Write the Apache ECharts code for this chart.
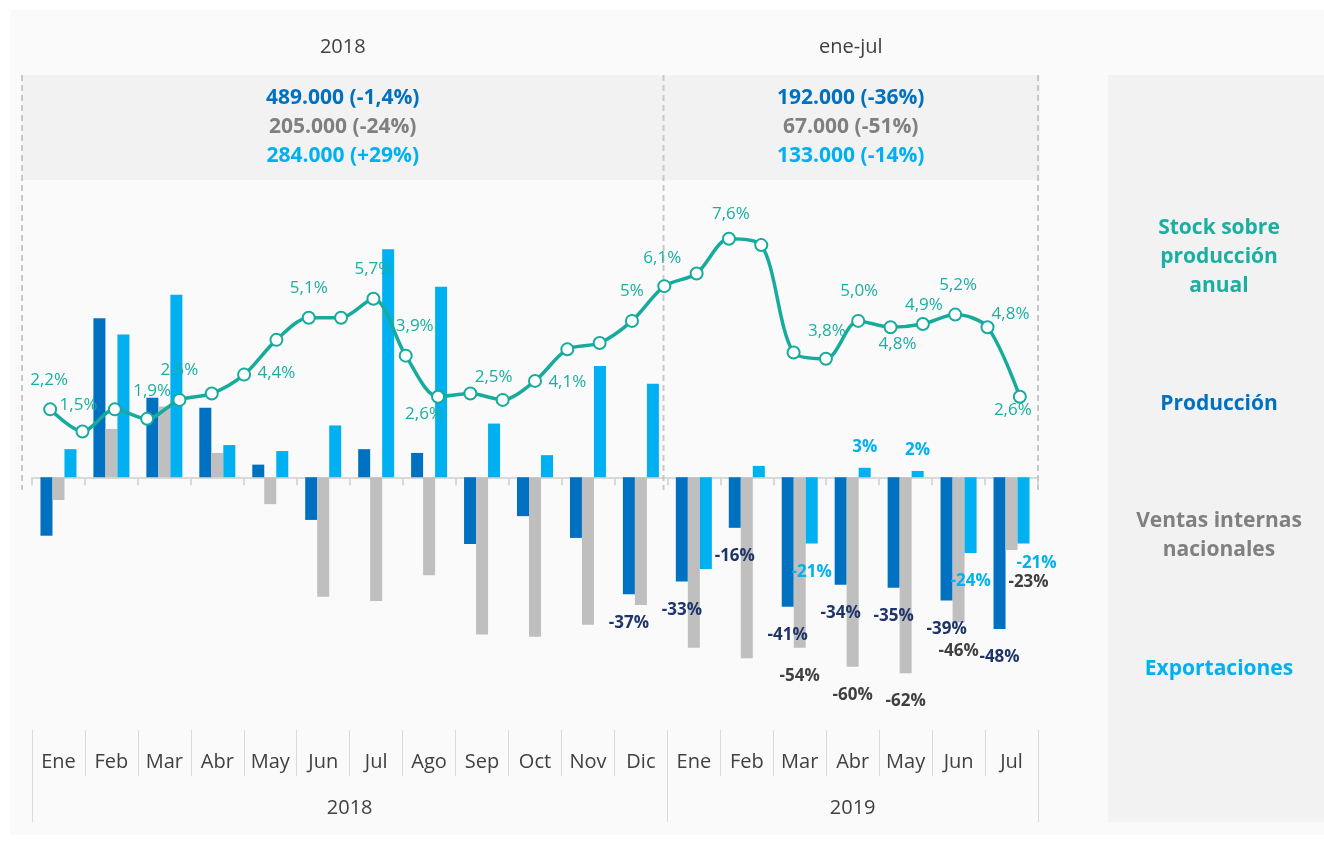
<!DOCTYPE html>
<html>
<head>
<meta charset="utf-8">
<script src="https://cdn.jsdelivr.net/npm/echarts@6/dist/echarts.min.js"></script>
<style>
  html, body { margin: 0; padding: 0; background: #fff; }
  #chart { width: 1324px; height: 845px; }
</style>
</head>
<body>
<div id="chart"></div>
<script>
// months on the bar axis
const months = ['Ene', 'Feb', 'Mar', 'Abr', 'May', 'Jun', 'Jul', 'Ago', 'Sep', 'Oct', 'Nov', 'Dic',
  'Ene', 'Feb', 'Mar', 'Abr', 'May', 'Jun', 'Jul']
const yearLabels = ['2018', '2019']
const yearMonths = [12, 7]

// year-on-year change, %
const produccion = [-18.5, 50.3, 25.2, 22, 4, -13.5, 8.9, 7.7, -21.1, -12.3, -19.2, -37,
  -33, -16, -41, -34, -35, -39, -48]
const ventas = [-7.2, 15.3, 22.4, 7.7, -8.5, -37.8, -39.2, -31, -49.8, -50.5, -46.7, -40.4,
  -54, -57.3, -54, -60, -62, -46, -23]
const exportaciones = [8.9, 45.2, 57.8, 10.2, 8.3, 16.4, 72.2, 60.3, 17, 7, 35.2, 29.6,
  -29, 3.6, -21, 3, 2, -24, -21]

// stock over annual production, %
const stock = [2.2, 1.5, 2.2, 1.9, 2.5, 2.7, 3.3, 4.4, 5.1, 5.1, 5.7, 3.9, 2.6, 2.7, 2.5, 3.1,
  4.1, 4.3, 5.0, 6.1, 6.5, 7.6, 7.4, 4.0, 3.8, 5.0, 4.8, 4.9, 5.2, 4.8, 2.6]
const stockLabels = ['2,2%', '1,5%', '', '1,9%', '2,5%', '', '', '4,4%', '5,1%', '', '5,7%', '3,9%',
  '2,6%', '', '2,5%', '', '4,1%', '', '5%', '6,1%', '', '7,6%', '', '', '3,8%', '5,0%', '4,8%',
  '4,9%', '5,2%', '4,8%', '2,6%']

// header totals
const periodTitles = ['2018', 'ene-jul']
const totalsProduccion = ['489.000 (-1,4%)', '192.000 (-36%)']
const totalsVentas = ['205.000 (-24%)', '67.000 (-51%)']
const totalsExport = ['284.000 (+29%)', '133.000 (-14%)']

const C_PROD = '#0070c0'
const C_VENT = '#bfbfbf'
const C_EXP = '#00b0f0'
const C_LINE = '#17ab9d'
const FONT = 'Open Sans'

// where the stock labels sit, relative to each point
const stockLabelOffsets = {
  0: [-1, -29], 1: [-4, -26], 3: [5, -28], 4: [0, -30], 7: [0, 33], 8: [0, -30], 10: [0, -30],
  11: [9, -29], 12: [-14, 17], 14: [-9, -23], 16: [0, 33], 18: [0, -30], 19: [-2, -28],
  21: [2, -25], 24: [1, -28], 25: [1, -30], 26: [7, 17], 27: [1, -19], 28: [3, -29],
  29: [23, -13], 30: [-7, 13],
}

// which bars get a value label, and the odd ones nudged aside
const labelled = {
  prod: (i) => i >= 11,
  vent: (i) => i >= 14,
  exp: (i) => i >= 14,
}
const labelNudge = { vent: { 18: [17, 4] }, exp: { 18: [13, -9] } }

function barData(values, key, labelColor) {
  return values.map((v, i) => ({
    value: v,
    label: {
      show: labelled[key](i),
      position: v < 0 ? 'bottom' : 'top',
      distance: v < 0 ? 20 : 12,
      offset: (labelNudge[key] && labelNudge[key][i]) || [0, 0],
      formatter: Math.round(v) + '%',
      color: labelColor,
      fontFamily: FONT,
      fontSize: 17,
      fontWeight: 'bold',
    },
  }))
}

let start = 0
const yearBounds = [0]
const yearCenters = []
yearMonths.forEach((n) => {
  yearCenters.push(start + n / 2)
  start += n
  yearBounds.push(start)
})

const left0 = 22, mid = 663.5, right0 = 1038
const centers = [(left0 + mid) / 2, (mid + right0) / 2]

function text(x, y, str, color, size, weight) {
  return {
    type: 'text', x, y, z: 10,
    style: { text: str, fill: color, font: `${weight || 'normal'} ${size}px "${FONT}"`, textAlign: 'center', textVerticalAlign: 'middle', lineHeight: 29 },
  }
}
function dashed(x) {
  return { type: 'line', z: 1, shape: { x1: x, y1: 75, x2: x, y2: 490 }, style: { stroke: '#c8c8c8', lineWidth: 2, lineDash: [6, 4] } }
}

const graphic = [
  { type: 'rect', z: -20, shape: { x: 10, y: 10, width: 1314, height: 825 }, style: { fill: '#fafafa' } },
  { type: 'rect', z: -10, shape: { x: 22, y: 75, width: 1018, height: 105 }, style: { fill: '#f2f2f2' } },
  { type: 'rect', z: -10, shape: { x: 1108, y: 75, width: 216, height: 747 }, style: { fill: '#f2f2f2' } },
  dashed(left0), dashed(mid), dashed(right0),
]
centers.forEach((cx, k) => {
  graphic.push(text(cx, 47, periodTitles[k], '#404040', 20))
  graphic.push(text(cx, 98, totalsProduccion[k], C_PROD, 21, 'bold'))
  graphic.push(text(cx, 127, totalsVentas[k], '#808080', 21, 'bold'))
  graphic.push(text(cx, 156, totalsExport[k], C_EXP, 21, 'bold'))
})
graphic.push(text(1219, 257, 'Stock sobre\nproducción\nanual', '#1aafa0', 21, 'bold'))
graphic.push(text(1219, 404, 'Producción', C_PROD, 21, 'bold'))
graphic.push(text(1219, 536, 'Ventas internas\nnacionales', '#808080', 21, 'bold'))
graphic.push(text(1219, 669, 'Exportaciones', C_EXP, 21, 'bold'))

const chart = echarts.init(document.getElementById('chart'))
chart.setOption({
  animation: false,
  backgroundColor: '#ffffff',
  textStyle: { fontFamily: FONT },
  graphic,
  grid: [
    { left: 32, width: 1006, top: 174, height: 556 },
    { left: 34, width: 1002, top: 174, height: 556 },
  ],
  xAxis: [
    {
      type: 'category', gridIndex: 0, data: months,
      axisLine: { onZero: true, lineStyle: { color: '#d9d9d9', width: 2 } },
      axisTick: { show: true, length: 8, lineStyle: { color: '#d9d9d9', width: 2 } },
      axisLabel: { show: false },
    },
    {
      type: 'category', gridIndex: 0, position: 'bottom', data: months,
      axisLine: { show: false, onZero: false },
      axisTick: { show: true, length: 46, lineStyle: { color: '#d9d9d9', width: 1 } },
      axisLabel: { margin: 22, fontSize: 20, color: '#404040', fontFamily: FONT },
    },
    {
      type: 'value', gridIndex: 0, position: 'bottom', min: 0, max: months.length,
      axisLine: { show: false, onZero: false },
      splitLine: { show: false },
      axisTick: { show: true, customValues: yearBounds, length: 92, lineStyle: { color: '#d9d9d9', width: 1 } },
      axisLabel: {
        customValues: yearCenters, margin: 68, fontSize: 20, color: '#404040', fontFamily: FONT,
        formatter: (v) => yearLabels[yearCenters.indexOf(v)],
      },
    },
    { type: 'category', gridIndex: 1, data: stock.map((_, i) => i), show: false },
  ],
  yAxis: [
    { type: 'value', gridIndex: 0, min: -80, max: 96, show: false },
    { type: 'value', gridIndex: 1, min: -7.95, max: 9.65, show: false },
  ],
  series: [
    {
      name: 'Producción', type: 'bar', xAxisIndex: 0, yAxisIndex: 0, barWidth: 12, barGap: '0%',
      itemStyle: { color: C_PROD }, data: barData(produccion, 'prod', '#1f3468'),
    },
    {
      name: 'Ventas internas nacionales', type: 'bar', xAxisIndex: 0, yAxisIndex: 0, barWidth: 12, barGap: '0%',
      itemStyle: { color: C_VENT }, data: barData(ventas, 'vent', '#404040'),
    },
    {
      name: 'Exportaciones', type: 'bar', xAxisIndex: 0, yAxisIndex: 0, barWidth: 12, barGap: '0%',
      itemStyle: { color: C_EXP }, data: barData(exportaciones, 'exp', C_EXP),
    },
    {
      name: 'Stock sobre producción anual', type: 'line', xAxisIndex: 3, yAxisIndex: 1, z: 5,
      smooth: 0.3, symbol: 'circle', symbolSize: 12,
      lineStyle: { color: C_LINE, width: 3.5 },
      itemStyle: { color: '#ffffff', borderColor: C_LINE, borderWidth: 2 },
      data: stock.map((v, i) => ({
        value: v,
        label: {
          show: stockLabels[i] !== '',
          position: 'inside',
          offset: stockLabelOffsets[i] || [0, 0],
          formatter: stockLabels[i],
          color: '#1aafa0',
          fontFamily: FONT,
          fontSize: 17,
        },
      })),
    },
  ],
})
</script>
</body>
</html>
